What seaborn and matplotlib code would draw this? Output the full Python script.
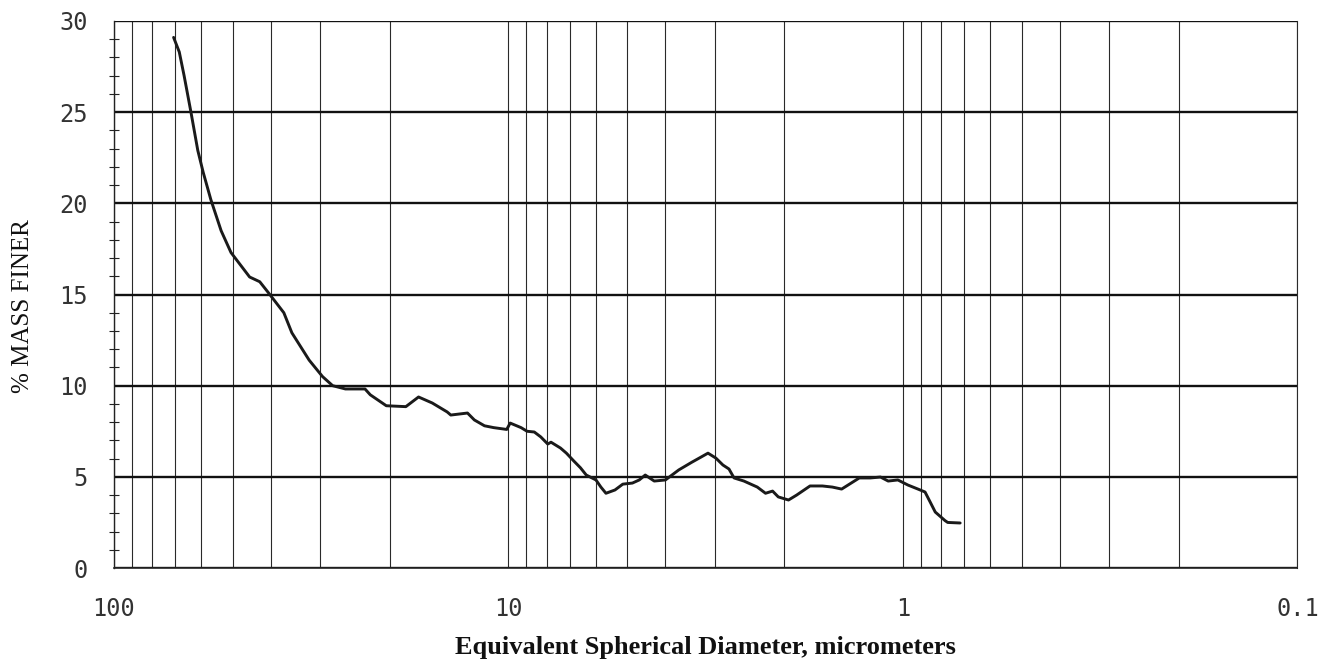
import pandas as pd
import seaborn as sns
import matplotlib.pyplot as plt
from matplotlib.ticker import LogLocator, MultipleLocator, NullFormatter

# particle size distribution
diameter = [70.6, 68.3, 66.4, 63.8, 61.3, 59.4, 56.8, 53.5, 50.5, 48.1,
            45.3, 42.7, 40.6, 37.1, 35.4, 32.0, 29.6, 27.9, 25.9, 23.1,
            22.4, 20.4, 18.2, 16.9, 15.6, 14.3, 14.0, 12.7, 12.2, 11.5,
            10.9, 10.1, 9.9, 9.29, 8.97, 8.6, 8.28, 7.95, 7.8, 7.38,
            7.13, 6.85, 6.57, 6.35, 6.0, 5.83, 5.66, 5.37, 5.13, 4.85,
            4.66, 4.5, 4.27, 4.0, 3.85, 3.7, 3.43, 3.24, 3.12, 2.98,
            2.86, 2.76, 2.68, 2.53, 2.34, 2.23, 2.14, 2.07, 1.95, 1.86,
            1.72, 1.6, 1.51, 1.43, 1.29, 1.21, 1.14, 1.09, 1.03, 0.971,
            0.916, 0.879, 0.853, 0.828, 0.782, 0.77, 0.716]
mass_finer = [29.1, 28.3, 27.0, 25.0, 22.9, 21.7, 20.2, 18.5, 17.3, 16.7,
              15.96, 15.7, 15.1, 14.0, 12.9, 11.4, 10.5, 10.0, 9.82, 9.82,
              9.5, 8.9, 8.85, 9.38, 9.05, 8.56, 8.39, 8.5, 8.12, 7.8,
              7.7, 7.6, 7.95, 7.7, 7.5, 7.46, 7.19, 6.8, 6.9, 6.58,
              6.3, 5.9, 5.5, 5.1, 4.83, 4.44, 4.1, 4.28, 4.6, 4.66,
              4.83, 5.1, 4.77, 4.83, 5.1, 5.38, 5.8, 6.1, 6.3, 6.03,
              5.65, 5.43, 4.94, 4.77, 4.44, 4.1, 4.22, 3.9, 3.73, 4.0,
              4.5, 4.5, 4.44, 4.33, 4.94, 4.94, 4.99, 4.77, 4.83, 4.55,
              4.33, 4.17, 3.62, 3.07, 2.6, 2.5, 2.47]

x_ticks = [100, 10, 1, 0.1]
x_tick_labels = ['100', '10', '1', '0.1']

df = pd.DataFrame({'diameter': diameter, 'mass_finer': mass_finer})

sns.set_style('white')
fig = plt.figure(figsize=(13.22, 6.66), dpi=100)
ax = fig.add_axes([0.0862, 0.1471, 0.8952, 0.8214])

sns.lineplot(data=df, x='diameter', y='mass_finer', sort=False,
             color='#1a1a1a', linewidth=2.1, ax=ax)

ax.set_xscale('log')
ax.set_xlim(100, 0.1)
ax.set_ylim(0, 30)

# log grid: a line at every 1..9 multiple
ax.set_xticks(x_ticks, labels=x_tick_labels)
ax.xaxis.set_minor_locator(LogLocator(base=10, subs=range(2, 10), numticks=20))
ax.xaxis.set_minor_formatter(NullFormatter())
ax.yaxis.set_major_locator(MultipleLocator(5))
ax.yaxis.set_minor_locator(MultipleLocator(1))

ax.grid(True, which='both', axis='x', color='#2a2a2a', linewidth=0.8)
ax.grid(True, which='major', axis='y', color='#111111', linewidth=1.7)

ax.tick_params(axis='x', which='both', direction='out', length=5, width=0.8,
               color='#222222', pad=16)
ax.tick_params(axis='y', which='major', direction='out', length=7, width=1.5,
               color='#111111', pad=12)
ax.tick_params(axis='y', which='minor', direction='inout', length=6.5,
               width=0.8, color='#222222', left=True)
for lab in ax.get_xticklabels() + ax.get_yticklabels():
    lab.set_family('DejaVu Sans Mono')
    lab.set_fontsize(17)
    lab.set_color('#333333')

ax.spines['top'].set_visible(False)
ax.spines['right'].set_color('#2a2a2a')
ax.spines['right'].set_linewidth(0.8)
ax.spines['left'].set_color('#222222')
ax.spines['left'].set_linewidth(1.0)
ax.spines['bottom'].set_color('#222222')
ax.spines['bottom'].set_linewidth(1.2)

ax.set_ylabel('% MASS FINER', family='Liberation Serif', fontsize=18,
              color='#111111')
ax.yaxis.label.set_va('center')
ax.yaxis.set_label_coords(-0.077, 0.479)

ax.set_xlabel('Equivalent Spherical Diameter, micrometers',
              family='Liberation Serif', fontweight='bold', fontsize=19,
              color='#111111')
ax.xaxis.label.set_va('top')
ax.xaxis.set_label_coords(0.5, -0.124)

fig.savefig('out.png', dpi=100, facecolor='white')
